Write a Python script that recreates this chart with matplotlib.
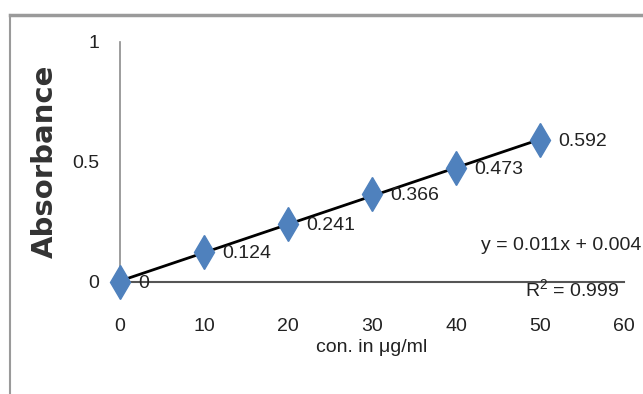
import numpy as np
import matplotlib
matplotlib.use("Agg")
import matplotlib.pyplot as plt
from matplotlib.lines import Line2D

# calibration data
conc = [0, 10, 20, 30, 40, 50]
absorbance = [0, 0.124, 0.241, 0.366, 0.473, 0.592]
point_labels = ["0", "0.124", "0.241", "0.366", "0.473", "0.592"]
x_ticks = [0, 10, 20, 30, 40, 50, 60]
y_ticks = [0, 0.5, 1]
y_tick_labels = ["0", "0.5", "1"]
eq_text = "y = 0.011x + 0.004"
r2_text = "R$^2$ = 0.999"

plt.rcParams["font.family"] = ["Liberation Sans", "DejaVu Sans"]
plt.rcParams["mathtext.fontset"] = "custom"
plt.rcParams["mathtext.rm"] = "Liberation Sans"

fs = 14
fig = plt.figure(figsize=(6.43, 3.94), dpi=100)
ax = fig.add_axes([120 / 643, (394 - 282) / 394, 504 / 643, 240 / 394])

# linear trendline through the points
slope, icpt = np.polyfit(conc, absorbance, 1)
xt = np.array([conc[0], conc[-1]])
ax.plot(xt, slope * xt + icpt, color="black", lw=2, zorder=2, clip_on=False)

ax.plot(conc, absorbance, linestyle="none", marker="d", markersize=17,
        color="#4F81BD", zorder=3, clip_on=False)

for x, y, lab in zip(conc, absorbance, point_labels):
    ax.annotate(lab, (x, y), xytext=(13, -1), textcoords="offset points",
                ha="left", va="center", fontsize=fs, color="#222222")

ax.set_xlim(0, 60)
ax.set_ylim(0, 1)
ax.set_xticks(x_ticks)
ax.set_yticks(y_ticks)
ax.set_yticklabels(y_tick_labels)
ax.tick_params(axis="x", length=0, pad=26, labelsize=fs, labelcolor="#222222")
ax.tick_params(axis="y", length=0, pad=15, labelsize=fs, labelcolor="#222222")

for s in ["top", "right"]:
    ax.spines[s].set_visible(False)
ax.spines["left"].set_color("#8c8c8c")
ax.spines["left"].set_linewidth(1.2)
ax.spines["bottom"].set_color("#555555")
ax.spines["bottom"].set_linewidth(1.5)

fig.text(45 / 643, 1 - 161 / 394, "Absorbance", rotation=90, ha="center",
         va="center", fontsize=21, fontweight="bold", family="DejaVu Sans",
         color="#333333")
fig.text(372 / 643, 1 - 347 / 394, "con. in \u03bcg/ml", ha="center",
         va="center", fontsize=fs, color="#222222")

fig.text(641 / 643, 1 - 245 / 394, eq_text, ha="right", va="center",
         fontsize=fs, color="#222222")
fig.text(525 / 643, 1 - 290 / 394, r2_text, ha="left", va="center",
         fontsize=fs, color="#222222")

# outer chart border (cut off at right and bottom)
fig.add_artist(Line2D([10 / 643, 10 / 643], [0, 1 - 15 / 394],
                      transform=fig.transFigure, color="#9a9a9a", lw=1.5))
fig.add_artist(Line2D([10 / 643, 1], [1 - 15 / 394, 1 - 15 / 394],
                      transform=fig.transFigure, color="#9a9a9a", lw=2.5))

fig.savefig("out.png", dpi=100)
